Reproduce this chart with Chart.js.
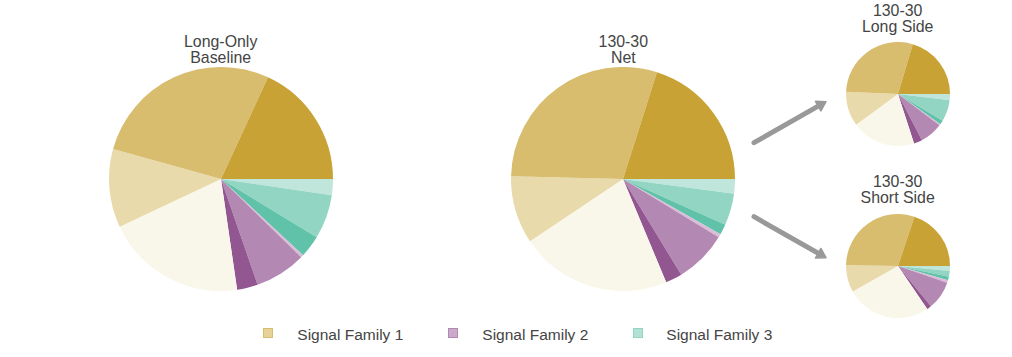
<!DOCTYPE html>
<html>
<head>
<meta charset="utf-8">
<script src="https://cdn.jsdelivr.net/npm/chart.js@4.4.1/dist/chart.umd.min.js"></script>
<style>
  html, body { margin:0; padding:0; background:#fff; }
  body { width:1012px; height:357px; position:relative; overflow:hidden; font-family:"Liberation Sans", Arial, sans-serif; }
  .pie { position:absolute; }
  .title { position:absolute; width:200px; text-align:center; font-size:15.9px; line-height:16px; color:#444; }
  .leg { position:absolute; font-size:15.5px; line-height:16px; color:#444; white-space:nowrap; }
  .sq { position:absolute; width:8px; height:8px; border:1.5px solid; }
  svg { position:absolute; left:0; top:0; }
</style>
</head>
<body>
<script>
// Slice order: counter-clockwise from 3 o'clock
const categories = ['Signal Family 1', 'Signal Family 2', 'Signal Family 3'];
const sliceLabels = ['Family 1 – A','Family 1 – B','Family 1 – C','Family 1 – D',
                     'Family 2 – A','Family 2 – B','Family 2 – C',
                     'Family 3 – A','Family 3 – B','Family 3 – C'];
const longOnlyBaseline = [18.1, 27.6, 11.3, 20.3, 3.0, 7.4, 0.4, 3.2, 6.4, 2.3];
const net130_30        = [20.1, 29.5, 9.8, 21.9, 2.4, 7.6, 0.5, 1.5, 4.6, 2.1];
const longSide130_30   = [20.4, 28.9, 10.8, 19.9, 2.6, 7.1, 0.4, 1.3, 6.7, 1.9];
const shortSide130_30  = [19.9, 29.9, 8.4, 26.3, 1.4, 8.9, 0.8, 1.1, 1.8, 1.5];
const titles = [['Long-Only','Baseline'], ['130-30','Net'], ['130-30','Long Side'], ['130-30','Short Side']];

const sliceColors = ['#C8A235','#D8BD6F','#E9DAAC','#F9F7EA',
                     '#925690','#B388B2','#D9BDD8',
                     '#60C2A8','#92D5C2','#C0E6DB'];
const legendColors = ['#D8BD6F','#B388B2','#92D5C2'];
const legendFills  = ['#E6D196','#CBA9CA','#B2E2D4'];

const pies = [
  { data: longOnlyBaseline, cx: 220.7, cy: 179.3, r: 112, tY: 34.4 },
  { data: net130_30,        cx: 623.3, cy: 179.3, r: 112, tY: 34.4 },
  { data: longSide130_30,   cx: 897.7, cy: 94.3,  r: 52,  tY: 3.4 },
  { data: shortSide130_30,  cx: 897.7, cy: 266,   r: 52,  tY: 174.4 }
];

pies.forEach((p, i) => {
  const size = p.r * 2;
  const c = document.createElement('canvas');
  c.className = 'pie';
  c.width = size; c.height = size;
  c.style.width = size + 'px'; c.style.height = size + 'px';
  c.style.left = (p.cx - p.r) + 'px';
  c.style.top = (p.cy - p.r) + 'px';
  document.body.appendChild(c);

  const t = document.createElement('div');
  t.className = 'title';
  t.style.left = (p.cx - 100) + 'px';
  t.style.top = p.tY + 'px';
  t.innerHTML = titles[i][0] + '<br>' + titles[i][1];
  document.body.appendChild(t);

  new Chart(c, {
    type: 'pie',
    data: {
      labels: sliceLabels.slice().reverse(),
      datasets: [{
        data: p.data.slice().reverse(),
        backgroundColor: sliceColors.slice().reverse(),
        borderWidth: 0
      }]
    },
    options: {
      responsive: false,
      animation: false,
      rotation: 90,
      layout: { padding: 0 },
      plugins: { legend: { display: false }, tooltip: { enabled: false }, title: { display: false } }
    }
  });
});

// Legend
const legPos = [{ sq: 263, tx: 297.3 }, { sq: 448, tx: 482.3 }, { sq: 632.5, tx: 666.3 }];
categories.forEach((name, i) => {
  const s = document.createElement('div');
  s.className = 'sq';
  s.style.left = legPos[i].sq + 'px';
  s.style.top = '328px';
  s.style.borderColor = legendColors[i];
  s.style.background = legendFills[i];
  document.body.appendChild(s);
  const l = document.createElement('div');
  l.className = 'leg';
  l.style.left = legPos[i].tx + 'px';
  l.style.top = '327px';
  l.textContent = name;
  document.body.appendChild(l);
});

// Arrows
const svgNS = 'http://www.w3.org/2000/svg';
const svg = document.createElementNS(svgNS, 'svg');
svg.setAttribute('width', 1012); svg.setAttribute('height', 357);
const arrows = [[754, 142.7, 826, 101.7], [754, 216.7, 826, 257.7]];
arrows.forEach(([x1, y1, x2, y2]) => {
  const ang = Math.atan2(y2 - y1, x2 - x1);
  const headLen = 9, headW = 5.5;
  const bx = x2 - headLen * Math.cos(ang), by = y2 - headLen * Math.sin(ang);
  const line = document.createElementNS(svgNS, 'line');
  line.setAttribute('x1', x1); line.setAttribute('y1', y1);
  line.setAttribute('x2', bx + 2 * Math.cos(ang)); line.setAttribute('y2', by + 2 * Math.sin(ang));
  line.setAttribute('stroke', '#999'); line.setAttribute('stroke-width', 5);
  line.setAttribute('stroke-linecap', 'round');
  svg.appendChild(line);
  const px = -Math.sin(ang), py = Math.cos(ang);
  const head = document.createElementNS(svgNS, 'polygon');
  head.setAttribute('points',
    `${x2},${y2} ${bx + px * headW},${by + py * headW} ${bx - px * headW},${by - py * headW}`);
  head.setAttribute('fill', '#999'); head.setAttribute('stroke', '#999');
  head.setAttribute('stroke-width', 1.5); head.setAttribute('stroke-linejoin', 'round');
  svg.appendChild(head);
});
document.body.appendChild(svg);
</script>
</body>
</html>
